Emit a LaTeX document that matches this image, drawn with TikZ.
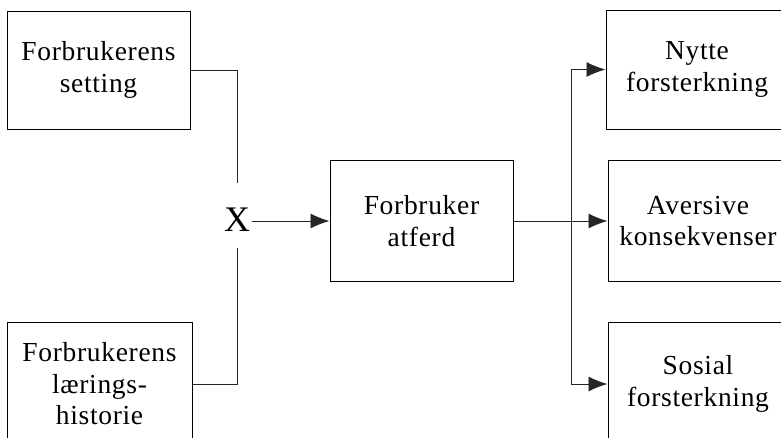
\documentclass[tikz,border=0pt]{standalone}
\usepackage{fontspec}
\setmainfont{Liberation Serif}
\usetikzlibrary{arrows.meta}
\begin{document}
\begin{tikzpicture}[x=1pt,y=-1pt,
  box/.style={draw=black,line width=1pt,rectangle,align=center,inner sep=1pt,
    font=\fontsize{27.5}{31.5}\selectfont\addfontfeatures{LetterSpace=2.5}},
  link/.style={line width=0.9pt,draw=black!85},
  arr/.style={link,-{Latex[length=19pt,width=15pt]}}]
\useasboundingbox (0,0) rectangle (781,437);
\clip (0,0) rectangle (781,437);
% left inputs
\node[box,minimum width=183pt,minimum height=118pt] (tl) at (98.5,70) {Forbrukerens\\setting};
\node[box,minimum width=185pt,minimum height=124pt] (bl) at (99.5,384) {Forbrukerens\\lærings-\\historie};
% combination mark
\node[inner xsep=1.5pt,inner ysep=0pt,text height=48.5pt,text depth=16.5pt,
  font=\fontsize{36}{40}\selectfont] (x) at (237,215.5) {X};
% behaviour
\node[box,minimum width=183pt,minimum height=121pt] (mid) at (421.5,221) {Forbruker\\atferd};
% consequences
\node[box,minimum width=182pt,minimum height=119pt] (tr) at (697,69.5) {Nytte\\forsterkning};
\node[box,minimum width=180pt,minimum height=121pt] (rm) at (698,221) {Aversive\\konsekvenser};
\node[box,minimum width=180pt,minimum height=124pt] (br) at (698,384) {Sosial\\forsterkning};
\coordinate (split) at (571,221);
% connectors
\draw[link] (tl.east) -| (x.north);
\draw[link] (bl.east) -| (x.south);
\draw[arr] (x.east |- mid.west) -- (mid.west);
\draw[arr] (mid.east) -- (rm.west);
\draw[link] (split |- tr.west) -- (split |- br.west);
\draw[arr] (split |- tr.west) -- (tr.west);
\draw[arr] (split |- br.west) -- (br.west);
\end{tikzpicture}
\end{document}
